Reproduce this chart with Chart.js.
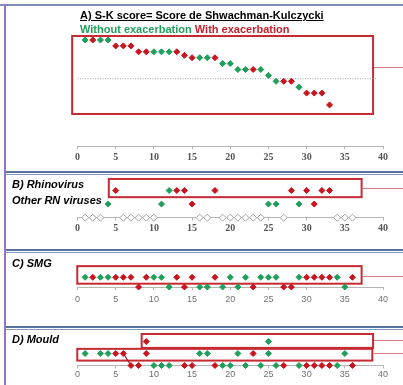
<!DOCTYPE html>
<html><head><meta charset="utf-8">
<script src="https://cdn.jsdelivr.net/npm/chart.js@4"></script>
<style>
html,body{margin:0;padding:0;background:#fff;}
body{width:403px;height:385px;position:relative;overflow:hidden;font-family:"Liberation Sans",Arial,sans-serif;}
canvas{position:absolute;left:0;}
.ln{position:absolute;}
.lbl{position:absolute;white-space:nowrap;font-weight:bold;font-size:11px;line-height:13px;color:#000;}
.it{font-style:italic;}
.g{color:#22a05c;}
.r{color:#c8202b;}
</style></head>
<body>
<div class="ln" style="left:0;top:4px;width:403px;height:2px;background:#8091b1"></div>
<div class="ln" style="left:4px;top:4px;width:2px;height:381px;background:#9a72c2"></div>
<div class="ln" style="left:6px;top:171px;width:397px;height:2px;background:#56749f"></div>
<div class="ln" style="left:6px;top:174px;width:397px;height:1px;background:#8398bd"></div>
<div class="ln" style="left:6px;top:249px;width:397px;height:2px;background:#56749f"></div>
<div class="ln" style="left:6px;top:252px;width:397px;height:1px;background:#8398bd"></div>
<div class="ln" style="left:6px;top:326px;width:397px;height:2px;background:#56749f"></div>
<div class="ln" style="left:6px;top:329px;width:397px;height:1px;background:#8398bd"></div>

<canvas id="cA"></canvas>
<canvas id="cB"></canvas>
<canvas id="cC"></canvas>
<canvas id="cD"></canvas>

<div class="lbl" style="left:80px;top:9px;text-decoration:underline;">A) S-K score= Score de Shwachman-Kulczycki</div>
<div class="lbl" style="left:80px;top:23px;"><span class="g">Without exacerbation</span> <span class="r">With exacerbation</span></div>
<div class="lbl it" style="left:12px;top:178px;">B) Rhinovirus</div>
<div class="lbl it" style="left:12px;top:194px;">Other RN viruses</div>
<div class="lbl it" style="left:12px;top:257px;">C) SMG</div>
<div class="lbl it" style="left:12px;top:333px;">D) Mould</div>

<script>
// ---- tick labels ----
const xTickValues = [0, 5, 10, 15, 20, 25, 30, 35, 40];

// ---- A) S-K score, patients ranked ----
const skPatients = [1,2,3,4,5,6,7,8,9,10,11,12,13,14,15,16,17,18,19,20,21,22,23,24,25,26,27,28,29,30,31,32,33];
const skScore    = [100,100,100,100,95,95,95,90,90,90,90,90,90,87,85,85,85,85,80,80,75,75,75,75,70,65,65,65,60,55,55,55,45];
const skExacerbation = [0,1,0,0,1,1,1,1,1,0,0,0,1,1,1,0,0,1,0,0,0,0,1,0,0,0,1,1,0,1,1,1,1];
const skThreshold = 67.2;
const skThresholdSpan = [0, 39.2];

// ---- B) viruses ----
const rhinoPatients = [5,12,13,14,18,28,30,32,33];
const rhinoExacerbation = [1,0,1,1,1,1,1,1,1];
const otherRnPatients = [4,11,15,25,26,29,31];
const otherRnExacerbation = [0,0,1,0,0,0,1];
const noVirusPatients = [1,2,3,6,7,8,9,10,16,17,19,20,21,22,23,24,27,34,35,36];

// ---- C) SMG ----
const smgPosPatients = [1,2,3,4,5,6,7,9,10,11,13,15,18,20,22,24,25,26,29,30,31,32,33,34,36];
const smgPosExacerbation = [0,1,0,0,1,1,1,1,0,0,1,1,1,0,0,0,0,0,0,1,1,1,1,0,1];
const smgNegPatients = [8,12,14,16,17,19,21,23,27,28,35];
const smgNegExacerbation = [1,0,1,0,0,0,0,1,1,1,0];

// ---- D) Mould ----
const mouldTopPatients = [9,25];
const mouldTopExacerbation = [1,0];
const mouldPosPatients = [1,3,4,5,6,9,16,17,21,23,25,35];
const mouldPosExacerbation = [0,0,0,1,1,1,0,0,0,1,0,0];
const mouldNegPatients = [7,8,10,11,12,14,15,18,19,20,22,24,26,27,29,30,31,32,33,34,36];
const mouldNegExacerbation = [1,1,0,0,0,1,1,1,0,0,0,0,0,1,0,1,1,1,1,0,1];
const mouldLink = [[6,1],[7,0]];

const GREEN = '#1f9f5b', RED = '#c8141f';

function split(patients, flags, yOf) {
  const g = [], r = [];
  patients.forEach((p, i) => {
    const pt = {x: p, y: yOf(i)};
    (flags[i] ? r : g).push(pt);
  });
  return [g, r];
}
function pts(data, color) {
  return {data, pointStyle:'rectRot', radius:3, pointRadius:3, borderWidth:1,
          borderColor:color, backgroundColor:color, showLine:false, clip:false};
}
function boxPlugin(boxes) {
  return {id:'boxes', beforeDatasetsDraw(chart) {
    const ctx = chart.ctx, x = chart.scales.x, y = chart.scales.y;
    ctx.save();
    boxes.forEach(b => {
      const l = x.getPixelForValue(b.x0), r = x.getPixelForValue(b.x1);
      const t = y.getPixelForValue(b.y1), bt = y.getPixelForValue(b.y0);
      ctx.strokeStyle = '#c62a33'; ctx.lineWidth = 2;
      ctx.strokeRect(l, t, r - l, bt - t);
      const ly = Math.round(y.getPixelForValue(b.link)) + 0.5;
      ctx.strokeStyle = '#d87c80'; ctx.lineWidth = 1;
      ctx.beginPath(); ctx.moveTo(r + 1, ly); ctx.lineTo(chart.width, ly); ctx.stroke();
    });
    ctx.restore();
  }};
}
function makeChart(id, geom, datasets, boxes, tickFont, tickColor, tickPad) {
  const cv = document.getElementById(id);
  cv.width = 403; cv.height = geom.h;
  cv.style.top = geom.top + 'px'; cv.style.width = '403px'; cv.style.height = geom.h + 'px';
  const axisH = 18;
  new Chart(cv, {
    type: 'scatter',
    data: {datasets},
    options: {
      responsive:false, animation:false, events:[],
      layout:{padding:{left:77.5, right:20, top:geom.areaTop - geom.top,
              bottom:geom.top + geom.h - geom.areaBottom - axisH}},
      plugins:{legend:{display:false}, tooltip:{enabled:false}},
      scales:{
        x:{type:'linear', min:0, max:40,
           afterFit: s => { s.height = axisH; },
           afterBuildTicks: s => { s.ticks = xTickValues.map(v => ({value:v})); },
           border:{display:true, color:'#b5b5b5', width:1},
           grid:{display:true, drawOnChartArea:false, drawTicks:true, tickLength:3, color:'#b5b5b5'},
           ticks:{font:tickFont, color:tickColor, padding:tickPad, maxRotation:0, autoSkip:false}},
        y:{display:false, min:geom.yMin, max:geom.yMax}
      }
    },
    plugins:[boxPlugin(boxes)]
  });
}

const serifFont = {family:'"Liberation Serif", "Times New Roman", serif', size:10, weight:'bold'};
const sansFont = {family:'"Liberation Sans", Arial, sans-serif', size:9};

// Panel A
{
  const [g, r] = split(skPatients, skExacerbation, i => skScore[i]);
  makeChart('cA', {top:6, h:164, areaTop:28, areaBottom:146, yMin:10.17, yMax:110.17}, [
    pts(g, GREEN), pts(r, RED),
    {data:[{x:skThresholdSpan[0], y:skThreshold},{x:skThresholdSpan[1], y:skThreshold}],
     showLine:true, borderColor:'#a5a5a5', borderWidth:1, borderDash:[1,1.5], pointRadius:0, clip:false}
  ], [{x0:-0.7, x1:38.7, y0:37.3, y1:103.4, link:77.4}], serifFont, '#555', 2);
}
// Panel B (rows: 2 = rhinovirus, 1 = other RN viruses, 0 = none)
{
  const [g1, r1] = split(rhinoPatients, rhinoExacerbation, () => 2);
  const [g2, r2] = split(otherRnPatients, otherRnExacerbation, () => 1);
  makeChart('cB', {top:174, h:75, areaTop:175, areaBottom:217.7, yMin:0, yMax:2.847}, [
    pts(g1, GREEN), pts(r1, RED), pts(g2, GREEN), pts(r2, RED),
    {data:noVirusPatients.map(p => ({x:p, y:0})), pointStyle:'rectRot', pointRadius:3.5,
     borderWidth:1, borderColor:'#a3a3a3', backgroundColor:'#fff', showLine:false, clip:false}
  ], [{x0:4.1, x1:37.2, y0:1.51, y1:2.85, link:2.18}], serifFont, '#555', 2);
}
// Panel C (rows: 1 = SMG positive, 0 = negative)
{
  const [g1, r1] = split(smgPosPatients, smgPosExacerbation, () => 1);
  const [g2, r2] = split(smgNegPatients, smgNegExacerbation, () => 0);
  makeChart('cC', {top:252, h:74, areaTop:253, areaBottom:287, yMin:0, yMax:3.091}, [
    pts(g1, GREEN), pts(r1, RED), pts(g2, GREEN), pts(r2, RED)
  ], [{x0:-0.03, x1:37.2, y0:0.34, y1:2.15, link:1.15}], sansFont, '#707070', 4);
}
// Panel D (rows: 2 = top box, 1 = mould positive, 0 = negative)
{
  const [g0, r0] = split(mouldTopPatients, mouldTopExacerbation, () => 2);
  const [g1, r1] = split(mouldPosPatients, mouldPosExacerbation, () => 1);
  const [g2, r2] = split(mouldNegPatients, mouldNegExacerbation, () => 0);
  makeChart('cD', {top:329, h:56, areaTop:330, areaBottom:365.5, yMin:0, yMax:2.63}, [
    pts(g0, GREEN), pts(r0, RED), pts(g1, GREEN), pts(r1, RED), pts(g2, GREEN), pts(r2, RED),
    {data:mouldLink.map(([x, y]) => ({x, y})), showLine:true, borderColor:'#8e1d2c', borderWidth:1.2,
     pointRadius:0, clip:false}
  ], [{x0:8.4, x1:38.7, y0:1.47, y1:2.63, link:2.13},
      {x0:-0.03, x1:38.6, y0:0.41, y1:1.39, link:1.02}], sansFont, '#707070', 1);
}
</script>
</body></html>
